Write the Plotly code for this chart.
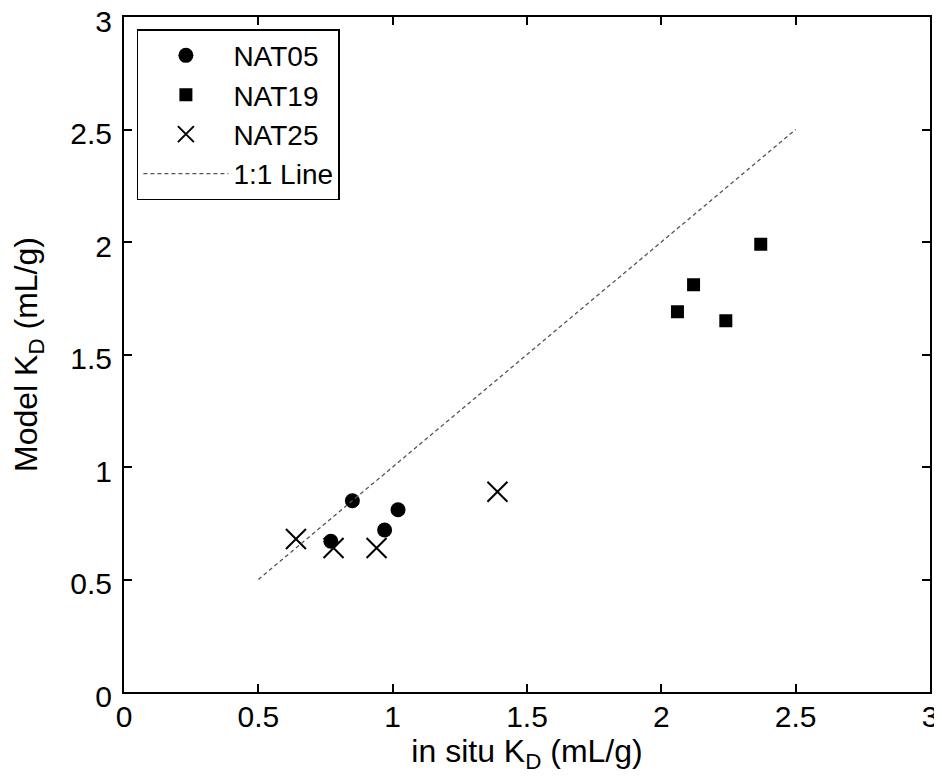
import plotly.graph_objects as go

nat05_x = [0.85, 0.97, 1.02, 0.77]
nat05_y = [0.85, 0.72, 0.81, 0.67]
nat19_x = [2.37, 2.12, 2.06, 2.24]
nat19_y = [1.99, 1.81, 1.69, 1.65]
nat25_x = [0.64, 0.78, 0.94, 1.39]
nat25_y = [0.68, 0.64, 0.64, 0.89]
line_x = [0.5, 2.5]
line_y = [0.5, 2.5]
ticks = [0, 0.5, 1, 1.5, 2, 2.5, 3]
tick_text = ["0", "0.5", "1", "1.5", "2", "2.5", "3"]

FONT = "Liberation Sans, Arial, sans-serif"

fig = go.Figure()
fig.add_trace(go.Scatter(x=nat05_x, y=nat05_y, mode="markers", name="NAT05",
                         marker=dict(symbol="circle", size=15, color="black")))
fig.add_trace(go.Scatter(x=nat19_x, y=nat19_y, mode="markers", name="NAT19",
                         marker=dict(symbol="square", size=13, color="black")))
fig.add_trace(go.Scatter(x=nat25_x, y=nat25_y, mode="markers", name="NAT25",
                         marker=dict(symbol="x-thin-open", size=20, color="black",
                                     line=dict(width=2, color="black"))))
fig.add_trace(go.Scatter(x=line_x, y=line_y, mode="lines", name="1:1 Line",
                         line=dict(color="#555555", width=1.3, dash="4px,3px")))

axis_common = dict(range=[0, 3], tickvals=ticks, ticktext=tick_text,
                   showgrid=False, zeroline=False, showline=True, linecolor="black",
                   linewidth=2, mirror="ticks", ticks="inside", ticklen=8,
                   tickwidth=1.5, tickcolor="black", automargin=False,
                   ticklabeloverflow="allow",
                   tickfont=dict(family=FONT, size=30, color="black"))

fig.update_xaxes(**axis_common, ticklabelstandoff=-3,
                 title=dict(text="in situ K<sub>D</sub> (mL/g)", standoff=6,
                            font=dict(family=FONT, size=32, color="black")))
fig.update_yaxes(**axis_common, ticklabelstandoff=4, ticklabelshift=4,
                 title=dict(text="Model K<sub>D</sub> (mL/g)", standoff=26,
                            font=dict(family=FONT, size=32, color="black")))

fig.update_layout(
    width=934, height=774,
    margin=dict(l=116, r=12, t=9, b=90),
    plot_bgcolor="white", paper_bgcolor="white",
    legend=dict(x=0.016, y=0.982, xanchor="left", yanchor="top",
                bgcolor="white", bordercolor="black", borderwidth=1.5,
                font=dict(family=FONT, size=28, color="black"),
                tracegroupgap=0, itemwidth=85),
    showlegend=True,
)

fig.write_html("out.html")
